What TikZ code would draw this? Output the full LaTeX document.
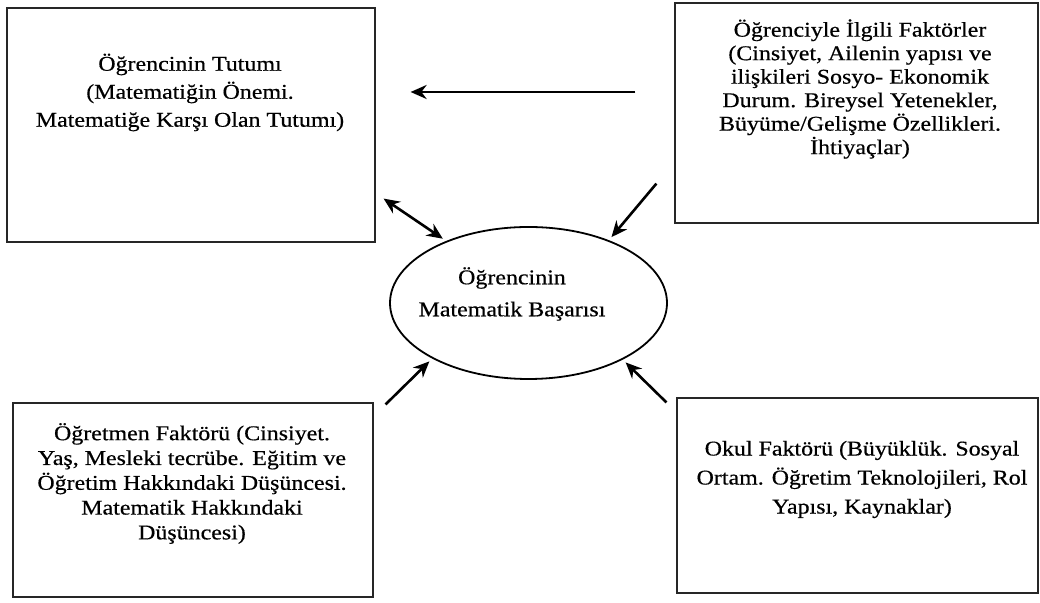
\documentclass[tikz,border=0pt]{standalone}
\usepackage{fontspec}
\setmainfont{Liberation Serif}[FakeStretch=1.14, FakeBold=0.5]
\usetikzlibrary{arrows.meta,shapes.geometric}

\newcommand{\fs}[1]{\fontsize{10.5}{#1}\selectfont}

\begin{document}
\begin{tikzpicture}[x=0.5pt, y=-0.5pt, >={Stealth[length=8pt,width=7pt]},
    frame/.style={draw=black!85, line width=0.6pt, inner sep=0pt},
    txt/.style={align=center, inner sep=0pt},
    arr/.style={->, line width=1.3pt, shorten >=2pt}]

    \useasboundingbox (0,0) rectangle (1040,603);

    %===========================
    % Boxes
    %===========================
    \node (tutum) at (191,125) [frame, minimum width=184pt, minimum height=117pt] {};
    \node (tutumtext) at (190,92.5) [txt, font=\fs{14pt}] {Öğrencinin Tutumı\\(Matematiğin Önemi.\\Matematiğe Karşı Olan Tutumı)};

    \node (ogrenci) at (856.5,113) [frame, minimum width=181.5pt, minimum height=110pt] {};
    \node (ogrencitext) at (860,89) [txt, font=\fs{11.75pt}] {Öğrenciyle İlgili Faktörler\\(Cinsiyet, Ailenin yapısı ve\\ilişkileri Sosyo- Ekonomik\\Durum. Bireysel Yetenekler,\\Büyüme/Gelişme Özellikleri.\\İhtiyaçlar)};

    \node (ogretmen) at (193,500) [frame, minimum width=180pt, minimum height=97pt] {};
    \node (ogretmentext) at (192,483.5) [txt, font=\fs{12.4pt}] {Öğretmen Faktörü (Cinsiyet.\\Yaş, Mesleki tecrübe. Eğitim ve\\Öğretim Hakkındaki Düşüncesi.\\Matematik Hakkındaki\\Düşüncesi)};

    \node (okul) at (857.5,495.5) [frame, minimum width=180.5pt, minimum height=97.5pt] {};
    \node (okultext) at (862,479.5) [txt, font=\fs{14.5pt}] {Okul Faktörü (Büyüklük. Sosyal\\Ortam. Öğretim Teknolojileri, Rol\\Yapısı, Kaynaklar)};

    %===========================
    % Achievement
    %===========================
    \node (basari) at (528.5,303) [ellipse, draw, line width=0.9pt, minimum width=138.5pt, minimum height=76pt, inner sep=0pt] {};
    \node (basaritext) at (512,294) [txt, font=\fs{16pt}] {Öğrencinin\\Matematik Başarısı};

    %===========================
    % Arrows
    %===========================
    \draw[arr, shorten <=19.5pt, shorten >=17.5pt] ([yshift=10.5pt]ogrenci.west) -- ([yshift=16.5pt]tutum.east);
    \draw[arr, <->] ([shift={(4pt,22pt)}]tutum.south east) -- (basari.143);
    \draw[arr] ([shift={(-9pt,20pt)}]ogrenci.south west) -- (basari.38);
    \draw[arr] ([shift={(6pt,-1pt)}]ogretmen.north east) -- (basari.210);
    \draw[arr] ([shift={(-5pt,-2.5pt)}]okul.north west) -- (basari.329);

\end{tikzpicture}
\end{document}
